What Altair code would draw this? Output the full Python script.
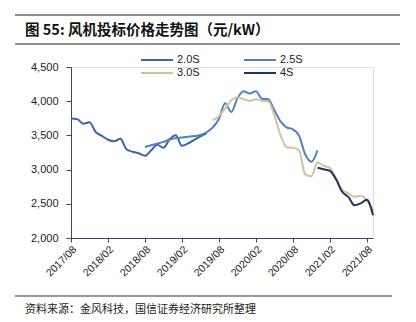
import altair as alt
import pandas as pd

# month index 0 = 2017/08
tick_labels = ["2017/08", "2018/02", "2018/08", "2019/02", "2019/08",
               "2020/02", "2020/08", "2021/02", "2021/08"]
tick_months = [0, 6, 12, 18, 24, 30, 36, 42, 48]

s20_start = 0
s20 = [3746, 3738, 3670, 3692, 3550, 3494, 3436, 3414, 3450, 3297, 3260, 3238,
       3202, 3282, 3363, 3319, 3443, 3501, 3348, 3384, 3436, 3487, 3530]

s25_start = 12
s25 = [3330, 3355, 3380, 3405, 3440, 3460, 3470, 3480, 3490, 3505, 3545, 3618,
       3740, 3969, 3842, 4042, 4145, 4111, 4145, 4035, 4028, 3867, 3706, 3618,
       3589, 3494, 3224, 3114, 3282]

s30_start = 23
s30 = [3721, 3779, 3896, 4013, 4057, 4028, 4003, 4028, 4006, 3999, 3794, 3501,
       3326, 3319, 3282, 2931, 2902, 3107, 3056, 3026, 2873, 2705, 2654, 2602,
       2617, 2551, 2405]

s4_start = 40
s4 = [3026, 3004, 2982, 2858, 2676, 2602, 2478, 2507, 2558, 2332]

# legend order arranged so the 2-column grid reads 2.0S 2.5S / 3.0S 4S
series_names = ["2.0S", "3.0S", "2.5S", "4S"]
series_colors = ["#3d65a5", "#cdc39c", "#4f81c4", "#1c345c"]

rows = []
for name, start, vals in [("2.0S", s20_start, s20), ("2.5S", s25_start, s25),
                          ("3.0S", s30_start, s30), ("4S", s4_start, s4)]:
    for i, v in enumerate(vals):
        rows.append({"m": start + i, "price": v, "series": name})
df = pd.DataFrame(rows)

label_expr = "[" + ",".join(f"'{t}'" for t in tick_labels) + "][round(datum.value/6)]"

axis_color = "#34486b"
font = "Liberation Sans"
cjk = "Noto Sans CJK SC"

lines = alt.Chart(df).mark_line(strokeWidth=2, interpolate="monotone").encode(
    x=alt.X("m:Q", title=None,
            scale=alt.Scale(domain=[0, 49], nice=False, zero=False),
            axis=alt.Axis(values=tick_months, labelExpr=label_expr, labelAngle=-45,
                          grid=False, domainColor=axis_color, tickColor=axis_color,
                          tickSize=4, labelFont=font, labelFontSize=10.5,
                          labelColor="#222", labelPadding=2)),
    y=alt.Y("price:Q", title=None,
            scale=alt.Scale(domain=[2000, 4500], nice=False, zero=False),
            axis=alt.Axis(values=[2000, 2500, 3000, 3500, 4000, 4500], format=",.0f",
                          grid=False, domainColor=axis_color, tickColor=axis_color,
                          tickSize=5, labelFont=font, labelFontSize=11,
                          labelColor="#222", labelPadding=8)),
    color=alt.Color("series:N", title=None,
                    scale=alt.Scale(domain=series_names, range=series_colors),
                    legend=alt.Legend(orient="none", legendX=69, legendY=-13,
                                      columns=2, columnPadding=43, rowPadding=1,
                                      symbolType="stroke", symbolSize=1024,
                                      symbolStrokeWidth=2, labelOffset=3,
                                      clipHeight=12, labelFont=font,
                                      labelFontSize=11, labelColor="#222")),
    detail="series:N",
)

one = alt.Data(values=[{"a": 1}])

top_rule = alt.Chart(one).mark_rule(color="#222", strokeWidth=1).encode(
    x=alt.value(-56), x2=alt.value(329), y=alt.value(-52))
mid_rule = alt.Chart(one).mark_rule(color="#222", strokeWidth=1).encode(
    x=alt.value(-56), x2=alt.value(329), y=alt.value(-23))
title_txt = alt.Chart(one).mark_text(align="left", baseline="middle", font=cjk,
                                     fontSize=14.5, fontWeight="bold", color="#111").encode(
    x=alt.value(-46), y=alt.value(-36), text=alt.value("图 55:  风机投标价格走势图（元/kW）"))
foot_rule = alt.Chart(one).mark_rule(color="#9a9a9a", strokeWidth=2).encode(
    x=alt.value(-56), x2=alt.value(321), y=alt.value(229))
foot_txt = alt.Chart(one).mark_text(align="left", baseline="middle", font=cjk,
                                    fontSize=11, color="#222").encode(
    x=alt.value(-46), y=alt.value(243), text=alt.value("资料来源：金风科技，国信证券经济研究所整理"))

chart = alt.layer(lines, top_rule, mid_rule, title_txt, foot_rule, foot_txt).properties(
    width=302, height=171,
    autosize=alt.AutoSizeParams(type="none"),
    padding={"left": 71, "top": 67, "right": 43, "bottom": 84},
).configure_view(stroke=None).configure(background="white")

chart.save("out.html", embed_options={"renderer": "svg", "actions": False})
